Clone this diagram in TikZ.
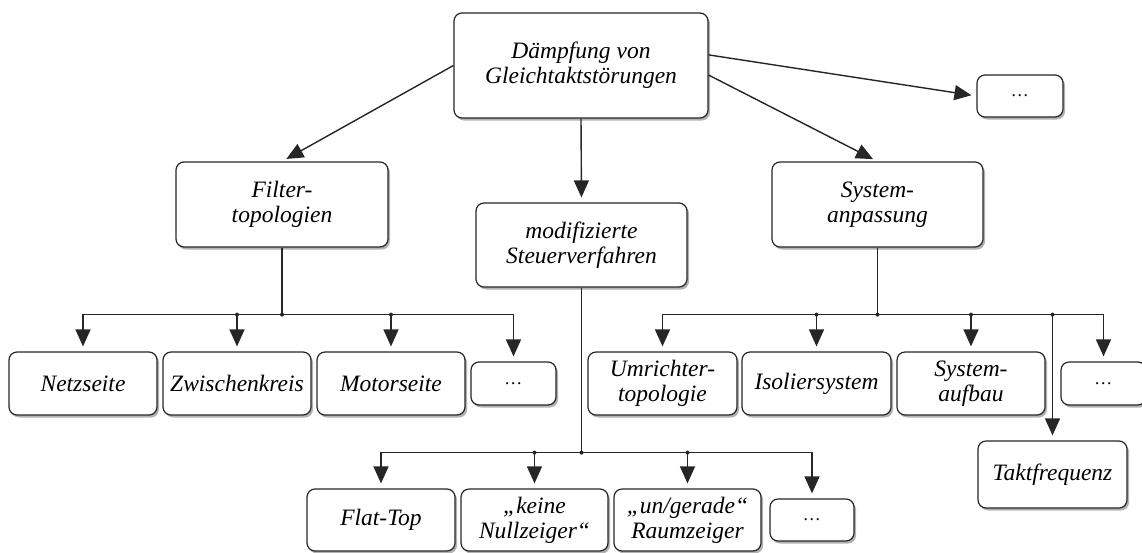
\documentclass[tikz,border=0pt]{standalone}
\usepackage{fontspec}
\setmainfont{Liberation Serif}
\usetikzlibrary{arrows.meta,shadows,calc}
\begin{document}
\begin{tikzpicture}[x=1pt,y=-1pt,
  bx/.style={draw=black!85, line width=1.2pt, rounded corners=8pt, fill=white,
    align=center, inner sep=0pt, font=\itshape\fontsize{23.5}{25}\selectfont,
    drop shadow={shadow xshift=2pt, shadow yshift=-2.5pt, fill=black, opacity=0.3}},
  dots/.style={bx, font=\itshape\fontsize{18}{20}\selectfont},
  ln/.style={line width=1.4pt, draw=black!85},
  arr/.style={ln, -{Triangle[length=17pt,width=15pt]}, shorten >=5pt},
  jn/.style={circle, fill=black!85, inner sep=0pt, minimum size=4pt}]
\useasboundingbox (0,0) rectangle (1142,552);

% top level
\node[bx, minimum width=254pt, minimum height=105pt] (top) at (581,65.5) {Dämpfung von\\Gleichtaktstörungen};
\node[dots, minimum width=86pt, minimum height=42pt] (d0) at (1020,96) {…};
\node[bx, minimum width=212pt, minimum height=85pt] (filter) at (282,204.5) {Filter-\\topologien};
\node[bx, minimum width=211pt, minimum height=84pt] (steuer) at (581.5,245) {modifizierte\\Steuerverfahren};
\node[bx, minimum width=211pt, minimum height=85pt] (system) at (877.5,204.5) {System-\\anpassung};

% filter children
\node[bx, minimum width=148pt, minimum height=63pt] (netz) at (83,383.5) {Netzseite};
\node[bx, minimum width=148pt, minimum height=63pt] (zwischen) at (237,383.5) {Zwischenkreis};
\node[bx, minimum width=148pt, minimum height=63pt] (motor) at (391,383.5) {Motorseite};
\node[dots, minimum width=85pt, minimum height=43pt] (dF) at (513.5,383.5) {…};

% system children
\node[bx, minimum width=149pt, minimum height=63pt] (umr) at (662.5,383.5) {Umrichter-\\topologie};
\node[bx, minimum width=149pt, minimum height=63pt] (isol) at (816.5,383.5) {Isoliersystem};
\node[bx, minimum width=148pt, minimum height=63pt] (sysauf) at (971,383.5) {System-\\aufbau};
\node[dots, minimum width=85pt, minimum height=43pt] (dS) at (1103.5,383.5) {…};
\node[bx, minimum width=149pt, minimum height=67pt] (takt) at (1052.5,474.5) {Taktfrequenz};

% steuer children
\node[bx, minimum width=148pt, minimum height=62pt] (flat) at (381,520) {Flat-Top};
\node[bx, minimum width=147pt, minimum height=62pt] (keine) at (534.5,520) {„keine\\Nullzeiger“};
\node[bx, minimum width=147pt, minimum height=62pt] (gerade) at (687.5,520) {„un/gerade“\\Raumzeiger};
\node[dots, minimum width=84pt, minimum height=42pt] (dB) at (812,520) {…};

% top arrows
\draw[arr] (top.west) -- (filter.north);
\draw[arr] (top.south) -- (steuer.north);
\draw[arr] ($(top.north east)!0.59!(top.south east)$) -- (system.north);
\draw[arr] ($(top.north east)!0.40!(top.south east)$) -- (d0.west);

% filter bus
\path (filter.south) ++(0,67) coordinate (fb);
\draw[ln] (filter.south) -- (fb);
\draw[arr] (fb) -| (netz.north);
\draw[arr] (fb) -| (zwischen.north);
\draw[arr] (fb) -| (motor.north);
\draw[arr] (fb) -| (dF.north);
\node[jn] at (fb) {};
\node[jn] at (fb -| zwischen.north) {};
\node[jn] at (fb -| motor.north) {};

% system bus
\path (system.south) ++(0,67) coordinate (sb);
\draw[ln] (system.south) -- (sb);
\draw[arr] (sb) -| (umr.north);
\draw[arr] (sb) -| (isol.north);
\draw[arr] (sb) -| (sysauf.north);
\draw[arr] (sb) -| (dS.north);
\draw[arr] (sb) -| (takt.north);
\node[jn] at (sb) {};
\node[jn] at (sb -| isol.north) {};
\node[jn] at (sb -| sysauf.north) {};
\node[jn] at (sb -| takt.north) {};

% steuer bus
\path (steuer.south) ++(0,165) coordinate (stb);
\draw[ln] (steuer.south) -- (stb);
\draw[arr] (stb) -| (flat.north);
\draw[arr] (stb) -| (keine.north);
\draw[arr] (stb) -| (gerade.north);
\draw[arr] (stb) -| (dB.north);
\node[jn] at (stb) {};
\node[jn] at (stb -| keine.north) {};
\node[jn] at (stb -| gerade.north) {};
\end{tikzpicture}
\end{document}
